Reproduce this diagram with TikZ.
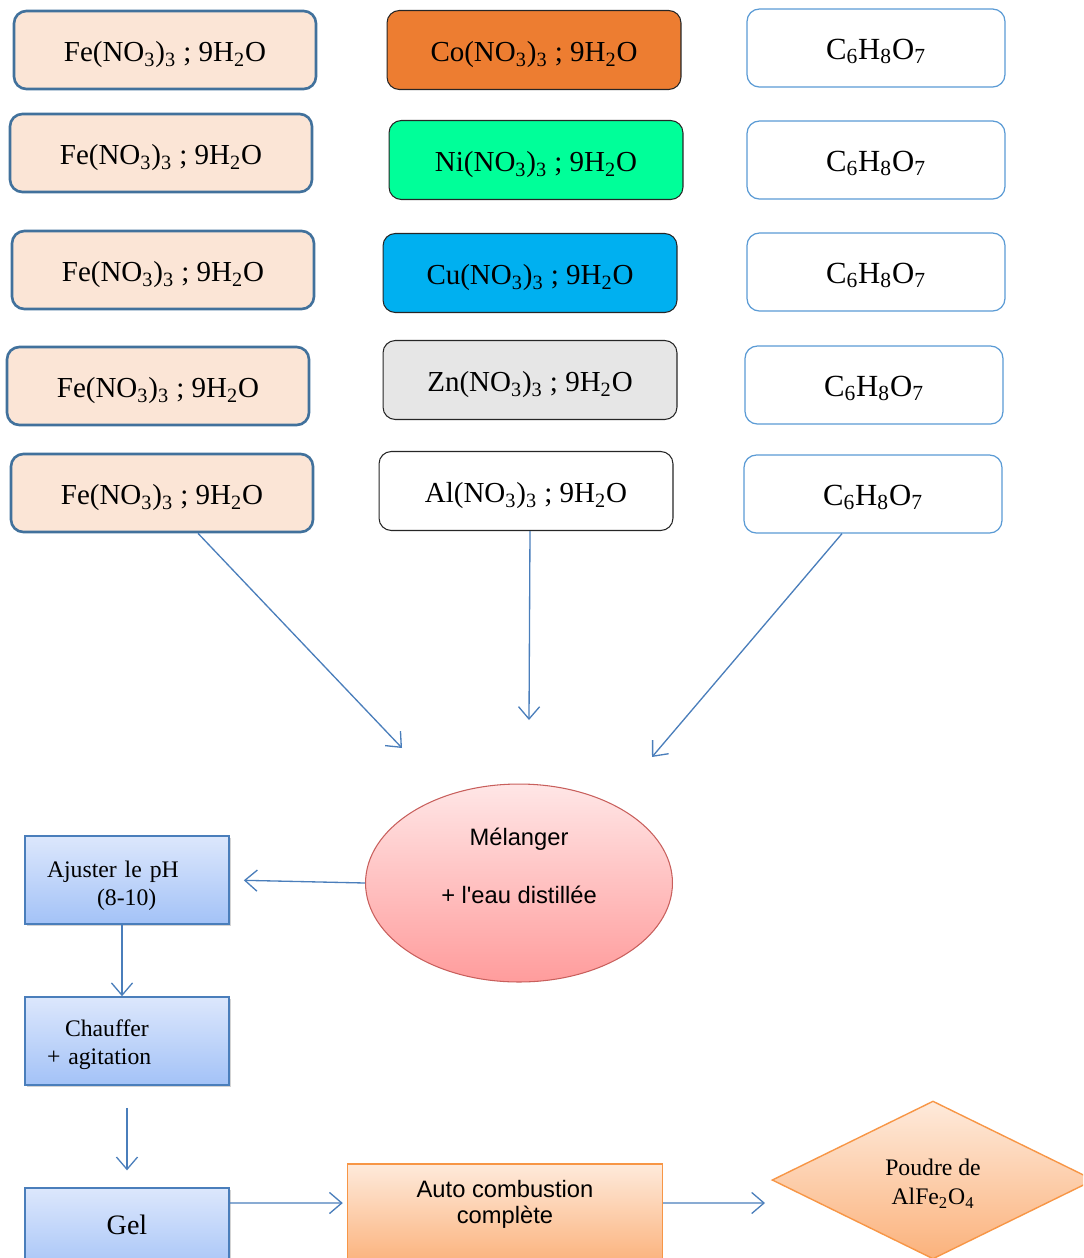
\documentclass[tikz,border=0pt]{standalone}
\usepackage{fontspec}
\setmainfont{Liberation Serif}
\setsansfont{Liberation Sans}
\usetikzlibrary{shapes.geometric,arrows.meta,shadows}

\definecolor{fefill}{HTML}{FBE5D6}
\definecolor{feline}{HTML}{41719C}
\definecolor{cofill}{HTML}{ED7D31}
\definecolor{nifill}{HTML}{00FF99}
\definecolor{cufill}{HTML}{00B0F0}
\definecolor{znfill}{HTML}{E6E6E6}
\definecolor{acline}{HTML}{5B9BD5}
\definecolor{arrowblue}{HTML}{4A7EBB}
\definecolor{steptop}{HTML}{DCE7FC}
\definecolor{stepbot}{HTML}{A3C2F7}
\definecolor{stepline}{HTML}{4A7EBB}
\definecolor{mixtop}{HTML}{FFE6E6}
\definecolor{mixbot}{HTML}{FF9C9C}
\definecolor{mixline}{HTML}{C85F5C}
\definecolor{combtop}{HTML}{FEEADB}
\definecolor{combbot}{HTML}{FBB27C}
\definecolor{combline}{HTML}{F79646}

\newcommand{\ind}[1]{\textsubscript{#1}}

\tikzset{
  febox/.style={draw=feline, line width=1.5pt, fill=fefill, rounded corners=7pt,
    minimum width=6.04cm, minimum height=1.56cm, text height=16pt, text depth=2.4pt,
    font=\fontsize{16.5}{20}\selectfont},
  saltbox/.style={draw=black!85, line width=0.6pt, rounded corners=7pt,
    minimum width=5.88cm, minimum height=1.58cm, text height=16pt, text depth=2.4pt,
    font=\fontsize{16.5}{20}\selectfont},
  acidbox/.style={draw=acline, line width=0.7pt, fill=white, rounded corners=7pt,
    minimum width=5.16cm, minimum height=1.56cm, text height=15.4pt, text depth=2.6pt,
    font=\fontsize{17.5}{21}\selectfont},
  stepbox/.style={draw=stepline, line width=0.9pt, top color=steptop, bottom color=stepbot,
    minimum width=4.08cm, minimum height=1.76cm, align=left, text width=3.2cm,
    drop shadow={shadow xshift=1.2pt, shadow yshift=-1.2pt, opacity=0.35},
    font=\fontsize{13.5}{16}\selectfont},
  mixbox/.style={ellipse, draw=mixline, line width=0.6pt, top color=mixtop, bottom color=mixbot,
    minimum width=6.14cm, minimum height=3.96cm, inner sep=0pt, align=center,
    font=\sffamily\fontsize{13.5}{16.5}\selectfont},
  combbox/.style={draw=combline, line width=0.8pt, top color=combtop, bottom color=combbot,
    minimum width=6.3cm, minimum height=2cm, align=center,
    font=\sffamily\fontsize{13.5}{14.8}\selectfont},
  powder/.style={diamond, draw=combline, line width=0.8pt, top color=combtop, bottom color=combbot,
    minimum width=6.44cm, minimum height=3.16cm, inner sep=0pt, align=center,
    font=\fontsize{13.5}{16.5}\selectfont},
  flow/.style={->, draw=arrowblue, line width=0.75pt}
}

\begin{document}
\begin{tikzpicture}[x=0.02cm, y=-0.02cm, >={Straight Barb[length=7pt,width=12pt]}]

\clip (0,0) rectangle (1083,1258);

%%%%%%%%%%%%%%%%%%%%%%%%%%%%%%%%%%%%%%%%%%%%%%%%%%%%%%%%%%%%%%%%
% Iron nitrate
%%%%%%%%%%%%%%%%%%%%%%%%%%%%%%%%%%%%%%%%%%%%%%%%%%%%%%%%%%%%%%%%

\node[febox] (fe1) at (165,50) {Fe(NO\ind{3})\ind{3} ; 9H\ind{2}O};
\node[febox] (fe2) at (161,153) {Fe(NO\ind{3})\ind{3} ; 9H\ind{2}O};
\node[febox] (fe3) at (163,270) {Fe(NO\ind{3})\ind{3} ; 9H\ind{2}O};
\node[febox] (fe4) at (158,386) {Fe(NO\ind{3})\ind{3} ; 9H\ind{2}O};
\node[febox] (fe5) at (162,493) {Fe(NO\ind{3})\ind{3} ; 9H\ind{2}O};

%%%%%%%%%%%%%%%%%%%%%%%%%%%%%%%%%%%%%%%%%%%%%%%%%%%%%%%%%%%%%%%%
% Other nitrates
%%%%%%%%%%%%%%%%%%%%%%%%%%%%%%%%%%%%%%%%%%%%%%%%%%%%%%%%%%%%%%%%

\node[saltbox,fill=cofill] (co) at (534,50) {Co(NO\ind{3})\ind{3} ; 9H\ind{2}O};
\node[saltbox,fill=nifill] (ni) at (536,160) {Ni(NO\ind{3})\ind{3} ; 9H\ind{2}O};
\node[saltbox,fill=cufill] (cu) at (530,273) {Cu(NO\ind{3})\ind{3} ; 9H\ind{2}O};
\node[saltbox,fill=znfill] (zn) at (530,380) {Zn(NO\ind{3})\ind{3} ; 9H\ind{2}O};
\node[saltbox,fill=white] (al) at (526,491) {Al(NO\ind{3})\ind{3} ; 9H\ind{2}O};

%%%%%%%%%%%%%%%%%%%%%%%%%%%%%%%%%%%%%%%%%%%%%%%%%%%%%%%%%%%%%%%%
% Citric acid
%%%%%%%%%%%%%%%%%%%%%%%%%%%%%%%%%%%%%%%%%%%%%%%%%%%%%%%%%%%%%%%%

\node[acidbox] (ac1) at (876,48) {C\ind{6}H\ind{8}O\ind{7}};
\node[acidbox] (ac2) at (876,160) {C\ind{6}H\ind{8}O\ind{7}};
\node[acidbox] (ac3) at (876,272) {C\ind{6}H\ind{8}O\ind{7}};
\node[acidbox] (ac4) at (874,385) {C\ind{6}H\ind{8}O\ind{7}};
\node[acidbox] (ac5) at (873,494) {C\ind{6}H\ind{8}O\ind{7}};

%%%%%%%%%%%%%%%%%%%%%%%%%%%%%%%%%%%%%%%%%%%%%%%%%%%%%%%%%%%%%%%%
% Synthesis steps
%%%%%%%%%%%%%%%%%%%%%%%%%%%%%%%%%%%%%%%%%%%%%%%%%%%%%%%%%%%%%%%%

\node[mixbox] (mix) at (519,883) {M\'elanger\\[\baselineskip]+ l\textquotesingle eau distill\'ee\rule[-0.7cm]{0pt}{0.7cm}};

\node[stepbox] (ajust) at (127,880) {\rule{0pt}{0.55cm}Ajuster le pH\\\hspace*{1cm}(8-10)};
\node[stepbox] (chauf) at (127,1041) {\rule{0pt}{0.49cm}\hspace*{0.36cm}Chauffer\\+ agitation};
\node[stepbox,align=center,font=\fontsize{16}{19}\selectfont] (gel) at (127,1232) {Gel\rule[-0.28cm]{0pt}{0.28cm}};

\node[combbox] (comb) at (505,1214) {Auto combustion\\compl\`ete\rule[-0.47cm]{0pt}{0.47cm}};
\node[powder] (pow) at (933,1180) {\rule{0pt}{0.49cm}Poudre de\\AlFe\ind{2}O\ind{4}};

% Free arrow ends
\coordinate (in1) at (402,748);
\coordinate (in2) at (529,720);
\coordinate (in3) at (652,757);
\coordinate (in4) at (765,1203);

% Edges
\draw[flow] ([xshift=0.72cm]fe5.south) -- (in1);
\draw[flow] ([xshift=0.08cm]al.south) -- (in2);
\draw[flow] ([xshift=-0.62cm]ac5.south) -- (in3);

\draw[flow,shorten >=8pt] (mix.west) -- (ajust.east);
\draw[flow] ([xshift=-0.1cm]ajust.south) -- ([xshift=-0.1cm]chauf.north);
\draw[flow,shorten <=12.5pt,shorten >=9.6pt] (chauf.south) -- (gel.north);
\draw[flow,shorten >=2.3pt] ([yshift=0.58cm]gel.east) -- ([yshift=0.22cm]comb.west);
\draw[flow] ([yshift=0.22cm]comb.east) -- (in4);

\end{tikzpicture}
\end{document}
